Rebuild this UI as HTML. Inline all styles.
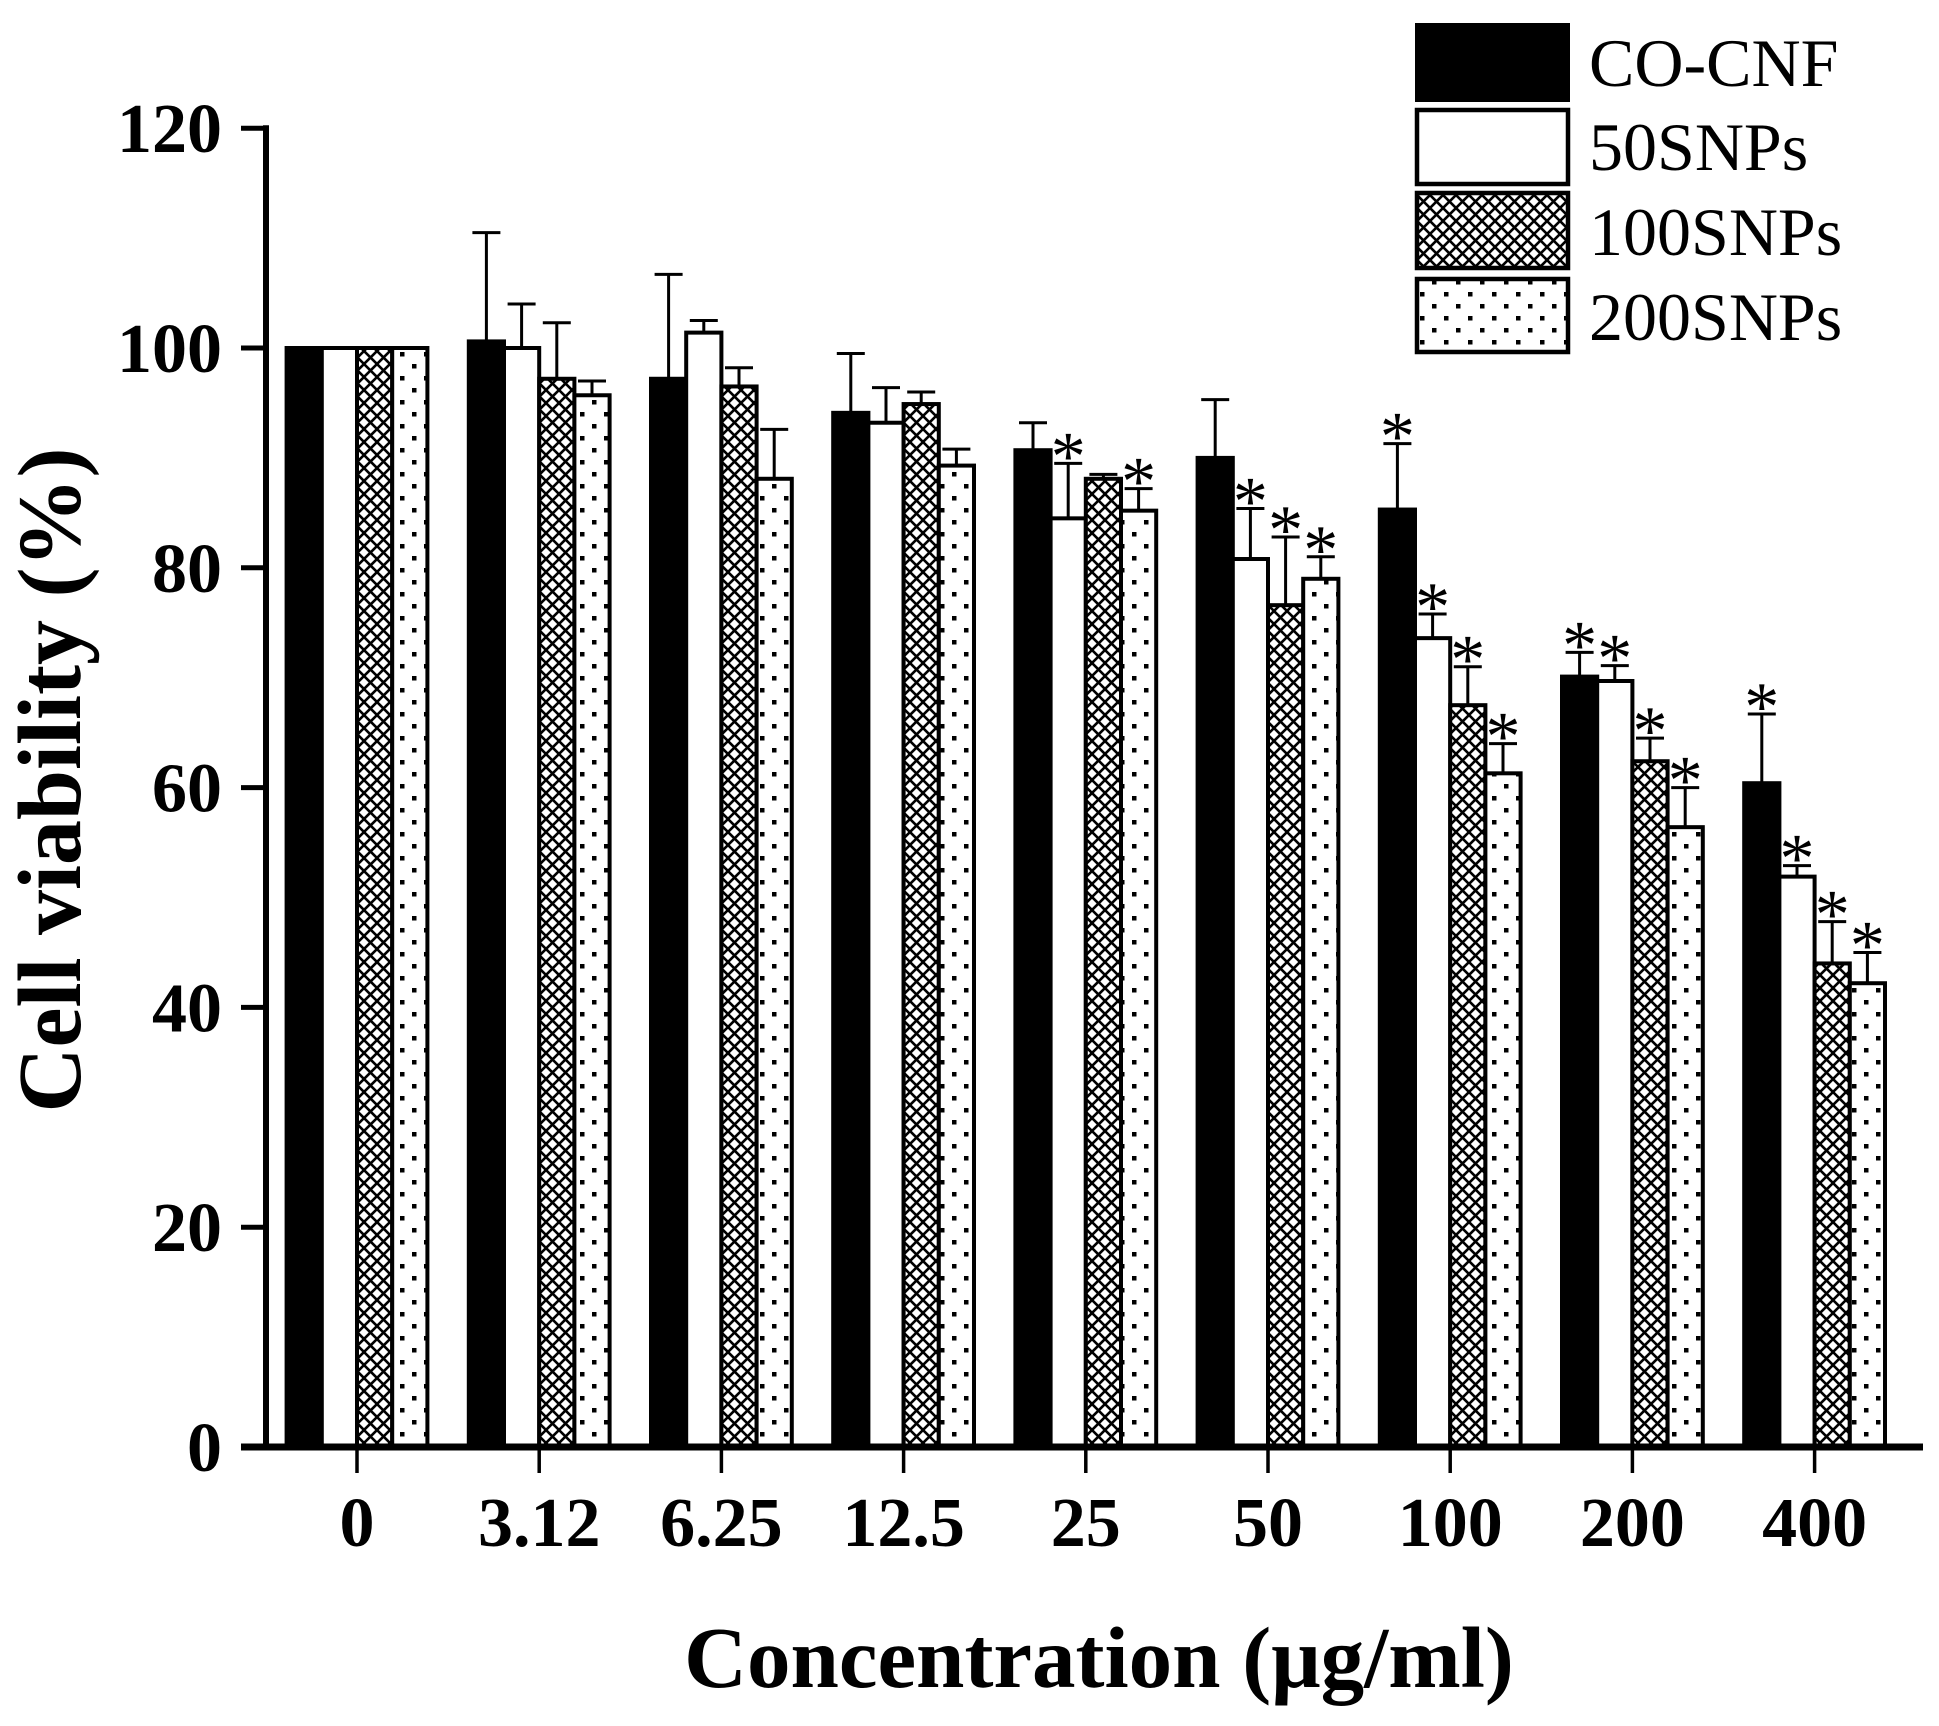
<!DOCTYPE html>
<html><head><meta charset="utf-8"><style>
html,body{margin:0;padding:0;background:#fff;}
svg{display:block;}
</style></head><body>
<svg id="chart" width="1939" height="1726" viewBox="0 0 1939 1726" xmlns="http://www.w3.org/2000/svg" font-family="'Liberation Serif', serif">
<defs>
<pattern id="hatch" patternUnits="userSpaceOnUse" width="13" height="13">
<rect width="13" height="13" fill="#fff"/>
<path d="M-1,-1 L14,14 M-1,14 L14,-1" stroke="#000" stroke-width="2.6"/>
</pattern>
<pattern id="dots" patternUnits="userSpaceOnUse" width="24" height="24">
<rect width="24" height="24" fill="#fff"/>
<rect x="4" y="4" width="4.5" height="4.5" fill="#000"/>
<rect x="16" y="16" width="4.5" height="4.5" fill="#000"/>
</pattern>
</defs>
<g id="bars"></g>
<g id="axes"></g>
<text transform="translate(80,780) rotate(-90)" text-anchor="middle" font-size="90" font-weight="bold">Cell viability (%)</text>
<text x="1099" y="1687" text-anchor="middle" font-size="87" font-weight="bold">Concentration (μg/ml)</text>
<g>
<rect x="1417" y="25" width="151" height="75" fill="#000" stroke="#000" stroke-width="4"/>
<text x="1589" y="86" font-size="68">CO-CNF</text>
<rect x="1417" y="110" width="151" height="74" fill="#fff" stroke="#000" stroke-width="4.5"/>
<text x="1589" y="170" font-size="68">50SNPs</text>
<rect x="1417" y="193" width="151" height="75" fill="url(#hatch)" stroke="#000" stroke-width="4.5"/>
<text x="1589" y="255" font-size="68">100SNPs</text>
<rect x="1417" y="279" width="151" height="73" fill="url(#dots)" stroke="#000" stroke-width="4.5"/>
<text x="1589" y="340" font-size="68">200SNPs</text>
</g>
</svg>
<script>
const categories = ["0","3.12","6.25","12.5","25","50","100","200","400"];
const seriesNames = ["co-cnf","50snps","100snps","200snps"];
const coCnf   = [100,100.6,97.2,94.1,90.7,90.0,85.3,70.1,60.4];
const snp50   = [100,100.0,101.4,93.2,84.5,80.8,73.6,69.7,51.9];
const snp100  = [100,97.2,96.5,94.9,88.1,76.6,67.5,62.4,44.0];
const snp200  = [100,95.7,88.1,89.3,85.2,79.0,61.3,56.4,42.2];
const errCoCnf  = [0,9.9,9.5,5.4,2.5,5.3,6.0,2.2,6.3];
const err50     = [0,4.0,1.1,3.2,5.0,4.6,2.2,1.4,1.0];
const err100    = [0,5.1,1.7,1.1,0.4,6.2,3.5,2.1,3.8];
const err200    = [0,1.3,4.5,1.5,2.0,2.0,2.7,3.6,2.8];
const sigCoCnf = [0,0,0,0,0,0,1,1,1];
const sig50    = [0,0,0,0,1,1,1,1,1];
const sig100   = [0,0,0,0,0,1,1,1,1];
const sig200   = [0,0,0,0,1,1,1,1,1];
const yTicks = [0,20,40,60,80,100,120];

const NS="http://www.w3.org/2000/svg";
const y0=1447, pxPerUnit=10.99;
function yScale(v){return y0 - v*pxPerUnit;}
function xCenter(i){return 357 + i*182.2;}
const barW=35.2;
function barX(i,k){return xCenter(i) - 2*barW + k*barW;}
function mk(tag,attrs,parent){const e=document.createElementNS(NS,tag);for(const a in attrs)e.setAttribute(a,attrs[a]);parent.appendChild(e);return e;}

const bars=document.getElementById('bars');
const axes=document.getElementById('axes');
const values=[coCnf,snp50,snp100,snp200];
const errs=[errCoCnf,err50,err100,err200];
const sigs=[sigCoCnf,sig50,sig100,sig200];
const fills=["#000","#fff","url(#hatch)","url(#dots)"];

for(let i=0;i<categories.length;i++){
  for(let k=0;k<4;k++){
    const v=values[k][i], x=barX(i,k), yt=yScale(v);
    const e=errs[k][i];
    if(e>0){
      const ye=yScale(v+e), cx=x+barW/2;
      const l=mk('line',{x1:cx,y1:yt,x2:cx,y2:ye,stroke:'#000','stroke-width':3},bars);
      
      
      const c=mk('line',{x1:cx-14,y1:ye,x2:cx+14,y2:ye,stroke:'#000','stroke-width':3},bars);
      
      
    }
    const r=mk('rect',{x:x,y:yt,width:barW,height:y0-yt,fill:fills[k],stroke:'#000','stroke-width':4},bars);
    
    
    if(sigs[k][i]){
      const top=yScale(v+(e||0));
      const s=mk('text',{x:x+barW/2,y:top+16,'text-anchor':'middle','font-size':70},bars);
      s.textContent='*';
      
      
    }
  }
}
const ya=mk('line',{x1:266,y1:yScale(120)-3,x2:266,y2:y0+3,stroke:'#000','stroke-width':6},axes);


yTicks.forEach(t=>{
  const y=yScale(t);
  const tl=mk('line',{x1:241,y1:y,x2:266,y2:y,stroke:'#000','stroke-width':5},axes);
  
  
  const lb=mk('text',{x:222,y:y+24,'text-anchor':'end','font-size':70,'font-weight':'bold'},axes);
  lb.textContent=t;
  
  
});
const xa=mk('line',{x1:241,y1:y0,x2:1923,y2:y0,stroke:'#000','stroke-width':7},axes);


categories.forEach((c,i)=>{
  const x=xCenter(i);
  const tl=mk('line',{x1:x,y1:y0,x2:x,y2:1473,stroke:'#000','stroke-width':3.5},axes);
  
  
  const lb=mk('text',{x:x,y:1546,'text-anchor':'middle','font-size':70,'font-weight':'bold'},axes);
  lb.textContent=c;
  
  
});
</script>
</body></html>
